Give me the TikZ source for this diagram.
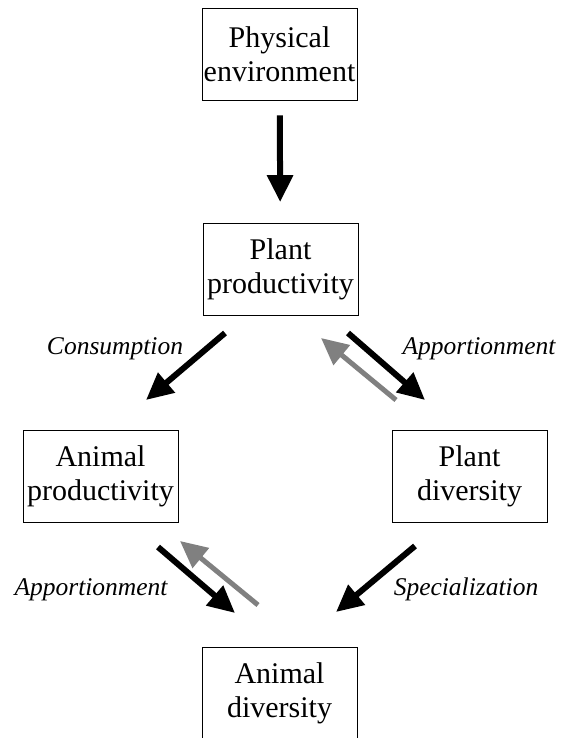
\documentclass[tikz,border=0pt]{standalone}
\usepackage{fontspec}
\setmainfont{Liberation Serif}
\usepackage{tikz}
\usetikzlibrary{arrows.meta}
\usepackage{xcolor}
\colorlet{backcol}{black!50}
\tikzstyle{box}=[draw,line width=0.8pt,minimum width=155pt,minimum height=92pt,
  inner sep=0pt,align=center,font=\fontsize{30}{34}\selectfont]
\tikzstyle{fat arrow}=[line width=6pt,-{Triangle[length=27pt,width=25pt]}]
\tikzstyle{back arrow}=[fat arrow,backcol,line width=5pt]
\tikzstyle{effect}=[anchor=base,font=\fontsize{25.5}{30}\selectfont\itshape]

\begin{document}
\begin{tikzpicture}[x=1pt,y=-1pt]
  \clip (0,0) rectangle (569,738);

  \node[box] (physenv)    at (279.5, 54)   {Physical\\environment};
  \node[box] (plantprod)  at (280.5,269.5) {Plant\\productivity};
  \node[box] (animalprod) at (100.5,476)   {Animal\\productivity};
  \node[box] (plantdiv)   at (469.5,476)   {Plant\\diversity};
  \node[box] (animaldiv)  at (279.5,693)   {Animal\\diversity};

  % ends of the floating arrows
  \coordinate (cons1) at (225,333);
  \coordinate (cons2) at (146,400);
  \coordinate (appP1) at (348,333);
  \coordinate (appP2) at (425,400);
  \coordinate (fbP1)  at (396,400);
  \coordinate (fbP2)  at (321,338);
  \coordinate (appA1) at (158,547);
  \coordinate (appA2) at (235,613);
  \coordinate (fbA1)  at (258,605);
  \coordinate (fbA2)  at (180,541);
  \coordinate (spec1) at (415,546);
  \coordinate (spec2) at (336,612);

  \draw[fat arrow,shorten <=15pt,shorten >=21pt] (physenv) -- (plantprod);

  \draw[fat arrow] (cons1) -- (cons2);
  \draw[back arrow] (fbP1) -- (fbP2);
  \draw[fat arrow] (appP1) -- (appP2);
  \draw[back arrow] (fbA1) -- (fbA2);
  \draw[fat arrow] (appA1) -- (appA2);
  \draw[fat arrow] (spec1) -- (spec2);

  \node[effect] (conslab) at (115,354) {Consumption};
  \node[effect] (appPlab) at (479,354) {Apportionment};
  \node[effect] (appAlab) at (91,595)  {Apportionment};
  \node[effect] (speclab) at (466,595) {Specialization};
\end{tikzpicture}
\end{document}
